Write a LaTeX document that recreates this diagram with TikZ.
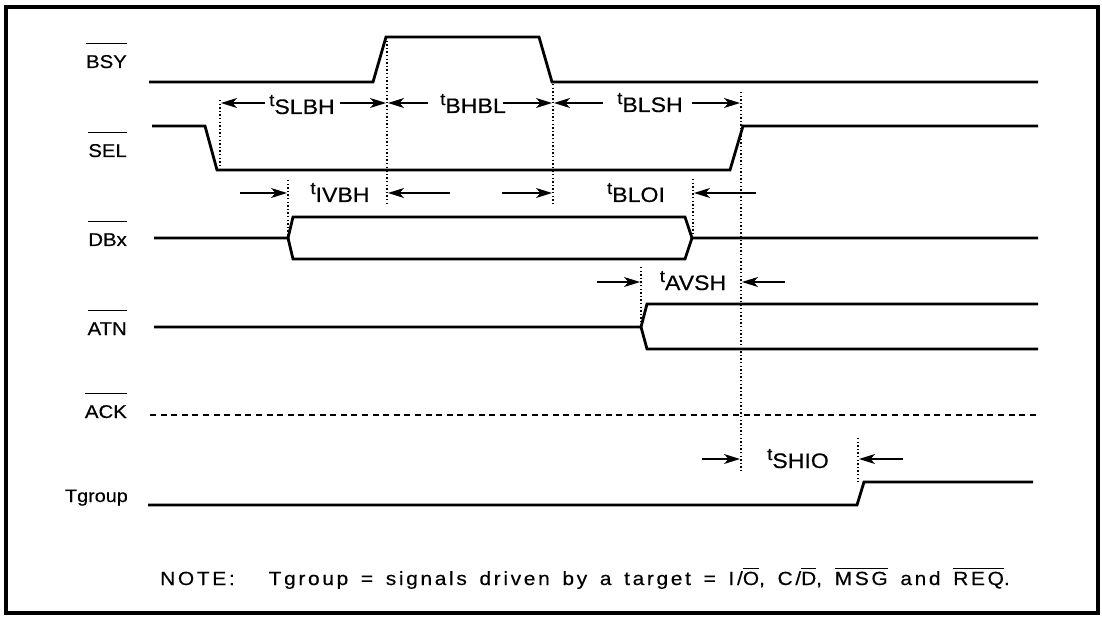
\documentclass[tikz,border=0pt]{standalone}
\usepackage{fontspec}
\setmainfont{Liberation Sans}
\newfontfamily\labfont[FakeStretch=1.1,FakeBold=0.4]{Liberation Sans}
\newfontfamily\notefont[FakeStretch=1.1,FakeBold=0.4,LetterSpace=14,WordSpace=1.5]{Liberation Sans}
\usetikzlibrary{arrows.meta}
\newcommand\sigl[1]{\vbox{\hrule height 1.3pt\kern 11pt\hbox{#1}}}
\newcommand\ovr[1]{\vbox{\hrule height 1pt\kern 3pt\hbox{#1}}}
\newcommand\tlab[1]{{\fontsize{17}{17}\selectfont\raisebox{8pt}{t}}{\fontsize{21}{21}\selectfont #1}}
\begin{document}
\begin{tikzpicture}[x=1pt,y=-1pt,
  wave/.style={line width=2.8pt, line join=miter},
  guide/.style={line width=1.2pt, dash pattern=on 1.4pt off 2.2pt},
  dim/.style={line width=1.4pt, -{Stealth[length=16pt,width=10pt,inset=4.5pt]}},
  sig/.style={anchor=base east, inner sep=0pt, font=\labfont\fontsize{18.5}{18.5}\selectfont},
  tlabel/.style={anchor=base, inner sep=0pt, font=\labfont}]
\useasboundingbox (0,0) rectangle (1102,620);
\fill[white] (0,0) rectangle (1102,620);
\draw[line width=4pt] (6,7) rectangle (1098,613);

% signal labels
\node[sig] (lbsy) at (127,68) {\sigl{BSY}};
\node[sig] (lsel) at (127,157) {\sigl{SEL}};
\node[sig] (ldbx) at (127,246) {\sigl{DBx}};
\node[sig] (latn) at (127,335) {\sigl{ATN}};
\node[sig] (lack) at (127,418) {\sigl{ACK}};
\node[sig,font=\labfont\fontsize{18}{18}\selectfont] (ltg) at (128,502) {Tgroup};

% waveforms
\draw[wave] (149,82) -- (373,82) -- (386,37) -- (539,37) -- (552,82) -- (1038,82);
\draw[wave] (152,126) -- (205,126) -- (217,170) -- (730,170) -- (743,126) -- (1038,126);
\draw[wave] (154,238) -- (288,238) -- (293,217) -- (685,217) -- (692,238) -- (1038,238);
\draw[wave] (288,238) -- (293,259) -- (685,259) -- (692,238);
\draw[wave] (154,327) -- (641,327) -- (647,304) -- (1038,304);
\draw[wave] (641,327) -- (647,349) -- (1038,349);
\draw[line width=2.4pt, dash pattern=on 6pt off 4.6pt] (150,415) -- (1038,415);
\draw[wave] (148,505) -- (857,505) -- (864,482) -- (1033,482);

% guide lines
\coordinate (g1t) at (220,100); \coordinate (g1b) at (220,166);
\coordinate (g2t) at (387,37);  \coordinate (g2b) at (387,203);
\coordinate (g3t) at (553,84);  \coordinate (g3b) at (553,203);
\coordinate (g4t) at (741,92);  \coordinate (g4b) at (741,472);
\coordinate (g5t) at (288,180); \coordinate (g5b) at (288,236);
\coordinate (g6t) at (693,179); \coordinate (g6b) at (693,236);
\coordinate (g7t) at (641,267); \coordinate (g7b) at (641,325);
\coordinate (g8t) at (858,438); \coordinate (g8b) at (858,482);
\foreach \g in {1,...,8} \draw[guide] (g\g t) -- (g\g b);

% dimension arrows, row 1
\coordinate (a1s) at (265,103); \coordinate (a1e) at (221,103);
\coordinate (a2s) at (340,103); \coordinate (a2e) at (386,103);
\coordinate (a3s) at (428,103); \coordinate (a3e) at (388,103);
\coordinate (a4s) at (503,103); \coordinate (a4e) at (552,103);
\coordinate (a5s) at (603,103); \coordinate (a5e) at (554,103);
\coordinate (a6s) at (692,103); \coordinate (a6e) at (740,103);
% row 2
\coordinate (a7s) at (240,193);  \coordinate (a7e) at (287,193);
\coordinate (a8s) at (450,193);  \coordinate (a8e) at (388,193);
\coordinate (a9s) at (502,193);  \coordinate (a9e) at (552,193);
\coordinate (a10s) at (756,193); \coordinate (a10e) at (694,193);
% row 3
\coordinate (a11s) at (597,282); \coordinate (a11e) at (640,282);
\coordinate (a12s) at (785,282); \coordinate (a12e) at (742,282);
% row 4
\coordinate (a13s) at (702,459); \coordinate (a13e) at (740,459);
\coordinate (a14s) at (903,459); \coordinate (a14e) at (859,459);
\foreach \a in {1,...,14} \draw[dim] (a\a s) -- (a\a e);

% timing labels
\node[tlabel] (tslbh) at (302,114) {\tlab{SLBH}};
\node[tlabel] (tbhbl) at (473,113) {\tlab{BHBL}};
\node[tlabel] (tblsh) at (650,112) {\tlab{BLSH}};
\node[tlabel] (tivbh) at (340,202) {\tlab{IVBH}};
\node[tlabel] (tbloi) at (636,202) {\tlab{BLOI}};
\node[tlabel] (tavsh) at (693,290) {\tlab{AVSH}};
\node[tlabel] (tshio) at (798,468) {\tlab{SHIO}};

% note
\node[anchor=base west, inner sep=0pt, font=\notefont\fontsize{19}{19}\selectfont] (note) at (160,585)
  {NOTE:\hspace{34pt}Tgroup = signals driven by a target = I/\ovr{O}, C/\ovr{D}, \ovr{MSG} and \ovr{REQ}.};
\end{tikzpicture}
\end{document}
